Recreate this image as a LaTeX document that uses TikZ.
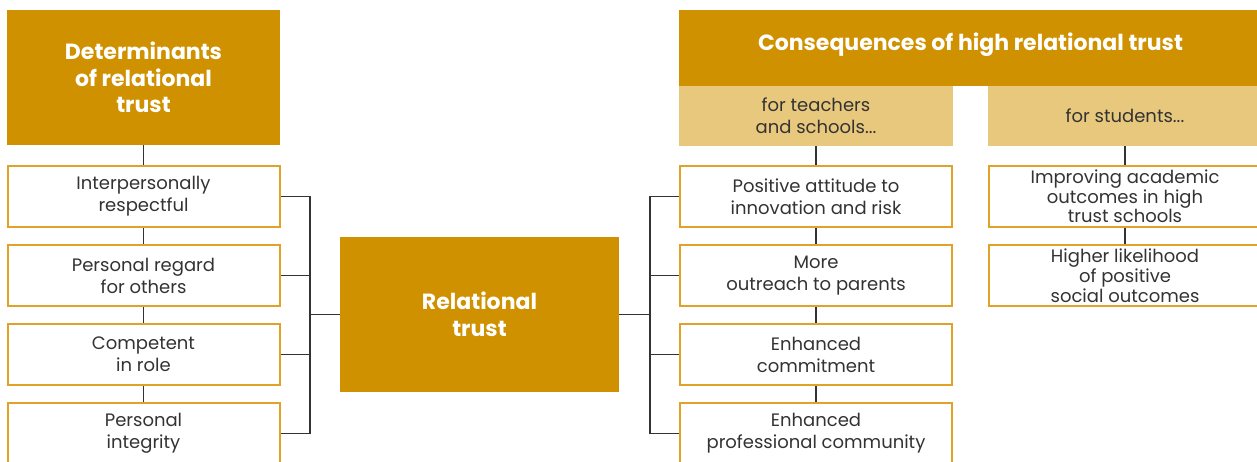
\documentclass[tikz,border=0pt]{standalone}
\usepackage{fontspec}
\setmainfont{Poppins}
\usetikzlibrary{calc}
\definecolor{gold}{RGB}{208,145,0}
\definecolor{goldline}{RGB}{224,163,40}
\definecolor{goldlight}{RGB}{232,200,125}
\definecolor{ink}{RGB}{51,51,51}
\tikzset{
	head/.style={fill=gold, text=white, font=\bfseries\fontsize{16.5}{20}\selectfont, align=center, inner sep=0pt},
	sub/.style={fill=goldlight, text=ink, font=\fontsize{13.5}{16.5}\selectfont, align=center, minimum width=205.5pt, minimum height=45pt, inner sep=0pt},
	item/.style={draw=goldline, line width=1.5pt, fill=white, text=ink, font=\fontsize{13.5}{16.5}\selectfont, align=center, minimum width=204pt, minimum height=46pt, inner sep=0pt},
	link/.style={draw=ink, line width=1.1pt},
}
\begin{document}
\begin{tikzpicture}[x=0.75pt, y=-0.75pt]
			%%%%% START %%%%%
			
			\useasboundingbox (0, 0) rectangle (1257, 461);
			\clip (0, 0) rectangle (1257, 461);
			
			% determinants
			\node[head, minimum width=204.75pt, minimum height=101.25pt] (det) at (143.5, 77.5) {Determinants\\of relational\\trust};
			\node[item] (lb1) at (143.5, 196.5) {Interpersonally\\respectful};
			\node[item] (lb2) at (143.5, 275.5) {Personal regard\\for others};
			\node[item] (lb3) at (143.5, 354.5) {Competent\\in role};
			\node[item] (lb4) at (143.5, 433.5) {Personal\\integrity};
			
			% centre
			\node[head, minimum width=209.25pt, minimum height=116.25pt] (rt) at (479.5, 314.5) {Relational\\trust};
			\coordinate (lbrack) at (310, 314.5);
			\coordinate (rbrack) at (650, 314.5);
			
			% consequences
			\node[head, minimum width=437.25pt, minimum height=57pt, text depth=9pt] (cons) at (970.5, 48) {Consequences of high relational trust};
			\node[sub] (teach) at (816, 116) {for teachers\\and schools...};
			\node[sub] (stud) at (1125, 116) {for students...};
			\node[item] (rb1) at (816, 196.5) {Positive attitude to\\innovation and risk};
			\node[item] (rb2) at (816, 275.5) {More\\outreach to parents};
			\node[item] (rb3) at (816, 354.5) {Enhanced\\commitment};
			\node[item] (rb4) at (816, 433.5) {Enhanced\\professional community};
			\node[item, font=\fontsize{13.5}{13.5}\selectfont] (sb1) at (1125, 196.5) {Improving academic\\outcomes in high\\trust schools};
			\node[item, font=\fontsize{13.5}{13.5}\selectfont] (sb2) at (1125, 275.5) {Higher likelihood\\of positive\\social outcomes};
			
			% links
			\draw[link] (det) -- (lb1);
			\draw[link] (lb1) -- (lb2);
			\draw[link] (lb2) -- (lb3);
			\draw[link] (lb3) -- (lb4);
			\foreach \i in {1,...,4}
				\draw[link] (lb\i.east) -| (lbrack);
			\draw[link] (lbrack) -- (rt.west);
			\draw[link] (rt.east) -- (rbrack);
			\foreach \i in {1,...,4}
				\draw[link] (rbrack) |- (rb\i.west);
			\draw[link] (teach) -- (rb1);
			\draw[link] (rb1) -- (rb2);
			\draw[link] (rb2) -- (rb3);
			\draw[link] (rb3) -- (rb4);
			\draw[link] (stud) -- (sb1);
			\draw[link] (sb1) -- (sb2);
			
			%%%%% END %%%%%
\end{tikzpicture}
\end{document}
